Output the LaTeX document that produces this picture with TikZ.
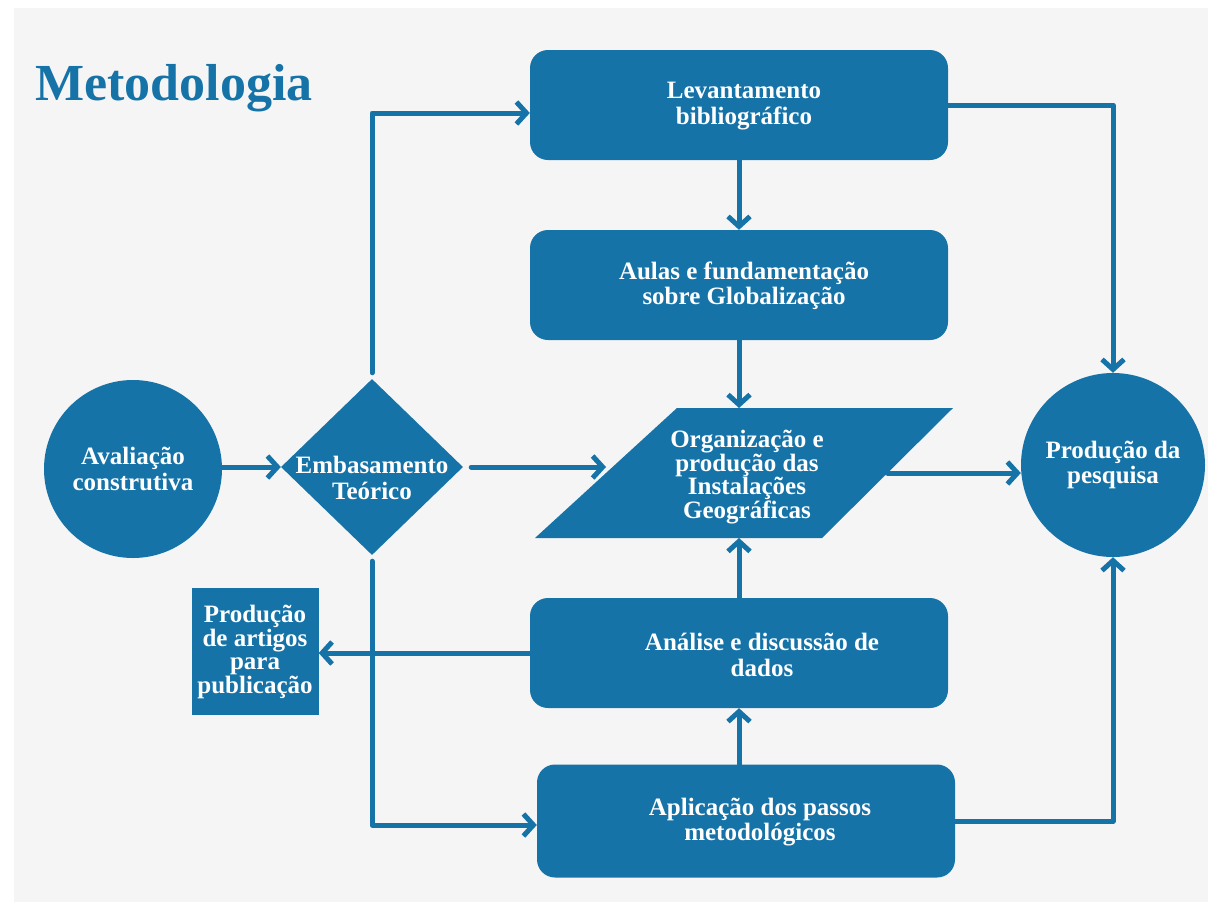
\documentclass[tikz,border=0pt]{standalone}
\usepackage{fontspec}
\setmainfont{Liberation Serif}
\usetikzlibrary{arrows.meta,shapes.geometric,calc}
\definecolor{mblue}{HTML}{1673A8}
\definecolor{bgray}{HTML}{F5F5F5}
\begin{document}
\begin{tikzpicture}[x=1pt,y=-1pt,
  txt/.style={text=white, font=\fontsize{25}{25.5}\selectfont\bfseries, align=center, inner sep=0pt},
  box/.style={fill=mblue, rounded corners=18pt, minimum width=418pt, minimum height=110pt, inner sep=0pt},
  circ/.style={txt, fill=mblue, circle, inner sep=0pt},
  arr/.style={draw=mblue, line width=5pt, line cap=round, line join=round, -{Straight Barb[length=10pt,width=22pt]}}
]
\fill[white] (0,0) rectangle (1218,908);
\fill[bgray] (14,8) rectangle (1208,902);
\useasboundingbox (0,0) rectangle (1218,908);

\node[text=mblue, font=\fontsize{52}{53}\selectfont\bfseries, anchor=west, inner sep=0pt] (title) at (35,88) {Metodologia};

\node[box] (lev) at (739,105) {};
\node[txt] (levt) at (744,106) {Levantamento\\bibliográfico};
\node[box] (aul) at (739,285) {};
\node[txt] (ault) at (744,286) {Aulas e fundamentação\\sobre Globalização};
\node[box] (ana) at (739,653) {};
\node[txt] (anat) at (762,655) {Análise e discussão de\\dados};
\node[box, minimum height=113pt] (apl) at (746,821) {};
\node[txt] (aplt) at (760,822) {Aplicação dos passos\\metodológicos};

% parallelogram
\coordinate (orgTL) at (677,408);
\coordinate (orgTR) at (953,408);
\coordinate (orgBR) at (822,538);
\coordinate (orgBL) at (535,538);
\fill[mblue] (orgTL) -- (orgTR) -- (orgBR) -- (orgBL) -- cycle;
\coordinate (orgW) at ($(orgTL)!0.5!(orgBL)$);
\coordinate (orgE) at ($(orgTR)!0.5!(orgBR)$);
\node[txt, font=\fontsize{25}{23.5}\selectfont\bfseries] (org) at (747,477) {Organização e\\produção das\\Instalações\\Geográficas};

\node[diamond, fill=mblue, minimum width=182pt, minimum height=176pt, inner sep=0pt] (emb) at (372,467) {};
\node[txt] (embt) at (372,478) {Embasamento\\Teórico};

\node[circ, minimum size=178pt] (aval) at (133,469) {Avaliação\\construtiva};
\node[circ, minimum size=184pt] (prod) at (1113,465) {Produção da\\pesquisa};

\node[fill=mblue, minimum width=127pt, minimum height=127pt, inner sep=0pt] (art) at (255,651) {};
\node[txt, font=\fontsize{25}{23.5}\selectfont\bfseries] (artt) at (255,652) {Produção\\de artigos\\para\\publicação};

% connectors
\draw[arr] (aval.east |- emb.west) -- (emb.west);
\draw[arr, shorten <=8pt] (emb.east) -- (emb.east -| orgW);
\draw[arr, shorten <=6pt] (emb.north) |- ($(lev.west)+(0,8)$);
\draw[arr, shorten <=6pt] (emb.south) |- ($(apl.west)+(0,4)$);
\draw[arr] (lev.south) -- (aul.north);
\draw[arr] (aul.south) -- (aul.south |- orgTL);
\draw[arr] (ana.north) -- (ana.north |- orgBL);
\draw[arr] (apl.north -| ana.south) -- (ana.south);
\draw[arr] (ana.west) -- (ana.west -| art.east);
\draw[arr] (lev.east) -| (prod.north);
\draw[arr] (orgE) -- (orgE -| prod.west);
\draw[arr] (apl.east) -| (prod.south);
\end{tikzpicture}
\end{document}
